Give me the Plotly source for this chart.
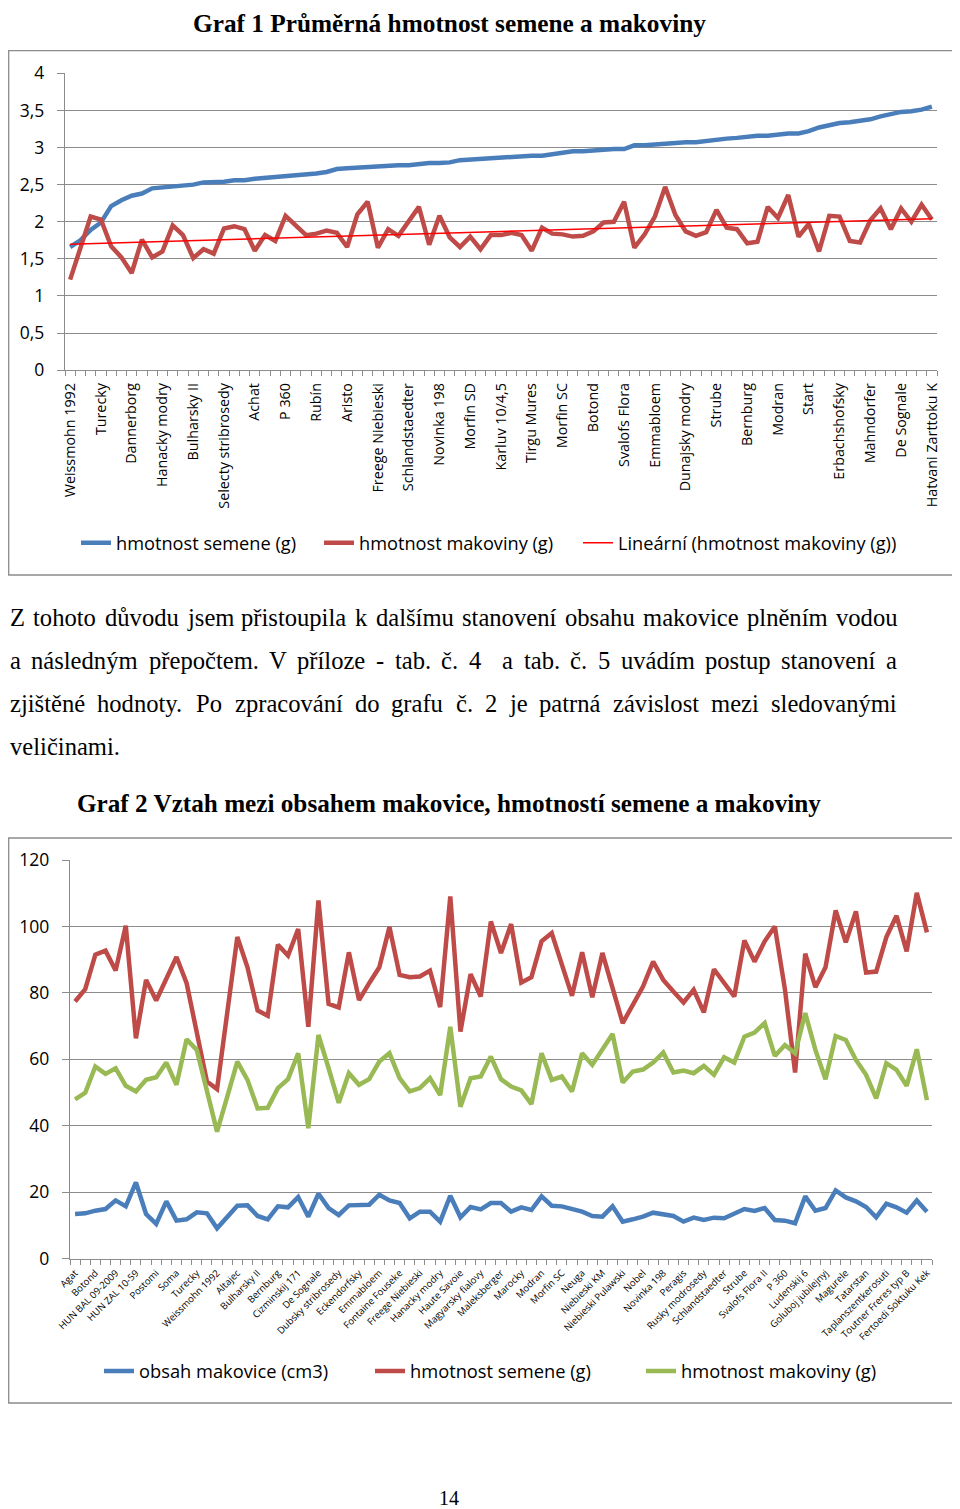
import numpy as np
import plotly.graph_objects as go

# The page body adds an 8px margin; lay the figure out in page pixels and shift.
PAGE_W, PAGE_H = 960, 1509
OFF = 8
W, H = PAGE_W - OFF, PAGE_H - OFF

# ---------------- Graf 1 data ----------------
g1_labels = ["Weissmohn 1992", "Turecky", "Dannerborg", "Hanacky modry", "Bulharsky II",
             "Selecty stribrosedy", "Achat", "P 360", "Rubín", "Aristo", "Freege Niebieski",
             "Schlandstaedter", "Novinka 198", "Morfin SD", "Karluv 10/4,5", "Tirgu Mures",
             "Morfin SC", "Botond", "Svalofs Flora", "Emmabloem", "Dunajsky modry", "Strube",
             "Bernburg", "Modran", "Start", "Erbachshofsky", "Mahndorfer", "De Sognale",
             "Hatvani Zarttoku K"]
g1_label_step = 3

g1_semene = [1.66, 1.75, 1.89, 1.99, 2.21, 2.29, 2.35, 2.38, 2.45, 2.46,
             2.48, 2.48, 2.50, 2.53, 2.53, 2.54, 2.56, 2.56, 2.58, 2.59,
             2.60, 2.61, 2.63, 2.64, 2.65, 2.67, 2.71, 2.72, 2.73, 2.74,
             2.74, 2.76, 2.76, 2.76, 2.78, 2.79, 2.79, 2.80, 2.83, 2.84,
             2.85, 2.85, 2.86, 2.88, 2.89, 2.89, 2.89, 2.91, 2.93, 2.95,
             2.95, 2.96, 2.98, 2.98, 2.98, 3.03, 3.03, 3.04, 3.06, 3.07,
             3.07, 3.07, 3.09, 3.10, 3.12, 3.13, 3.15, 3.16, 3.16, 3.18,
             3.19, 3.19, 3.22, 3.27, 3.30, 3.33, 3.34, 3.36, 3.38, 3.42,
             3.45, 3.48, 3.49, 3.51, 3.55]

g1_makoviny = [1.22, 1.64, 2.07, 2.03, 1.67, 1.52, 1.31, 1.76, 1.52, 1.60,
               1.95, 1.82, 1.51, 1.63, 1.57, 1.91, 1.94, 1.90, 1.61, 1.82,
               1.74, 2.08, 1.94, 1.82, 1.84, 1.88, 1.85, 1.66, 2.10, 2.27,
               1.65, 1.90, 1.81, 2.01, 2.20, 1.69, 2.08, 1.79, 1.66, 1.80,
               1.63, 1.82, 1.82, 1.85, 1.82, 1.61, 1.92, 1.84, 1.83, 1.80,
               1.81, 1.87, 1.99, 2.00, 2.27, 1.65, 1.83, 2.07, 2.47, 2.09,
               1.87, 1.81, 1.86, 2.16, 1.92, 1.90, 1.71, 1.73, 2.20, 2.05,
               2.36, 1.80, 1.97, 1.60, 2.08, 2.07, 1.74, 1.72, 2.02, 2.18,
               1.90, 2.18, 2.00, 2.23, 2.03]

# ---------------- Graf 2 data ----------------
g2_labels = ["Agat", "Botond", "HUN BAL 09-2009", "HUN ZAL 10-59", "Postomi", "Soma",
             "Turecky", "Weissmohn 1992", "Altajec", "Bulharsky II", "Bernburg",
             "Cizminskij 171", "De Sognale", "Dubsky stribrosedy", "Eckendorfsky",
             "Emmabloem", "Fontaine Fouseke", "Freege Niebieski", "Hanacky modry",
             "Haute Savoie", "Magyarsky fialovy", "Maleksberger", "Marocky", "Modran",
             "Morfin SC", "Neuga", "Niebieski KM", "Niebieski Pulawski", "Nobel",
             "Novinka 198", "Peragis", "Rusky modrosedy", "Schlandstaedter", "Strube",
             "Svalofs Flora II", "P 360", "Ludenskij 6", "Goluboj jubilejnyj", "Magurele",
             "Tatarstan", "Taplanszentkerosuti", "Toutner Freres typ B",
             "Fertoedi Soktuku Kek"]
g2_label_step = 2

g2_obsah = [13.4, 13.6, 14.4, 14.9, 17.5, 15.7, 22.9, 13.4, 10.4, 17.2,
            11.4, 11.8, 13.9, 13.6, 9.1, 12.4, 15.9, 16.0, 12.8, 11.8,
            15.7, 15.4, 18.5, 12.6, 19.5, 15.2, 13.1, 16.0, 16.0, 16.2,
            19.2, 17.5, 16.7, 12.1, 14.1, 14.1, 11.1, 18.9, 12.4, 15.5,
            14.8, 16.7, 16.7, 14.1, 15.4, 14.6, 18.7, 15.9, 15.7, 14.9,
            14.1, 12.8, 12.6, 15.7, 11.1, 11.8, 12.6, 13.8, 13.3, 12.8,
            11.1, 12.3, 11.6, 12.3, 12.1, 13.6, 14.9, 14.3, 15.2, 11.6,
            11.4, 10.6, 18.7, 14.4, 15.2, 20.5, 18.4, 17.2, 15.5, 12.4,
            16.5, 15.4, 13.8, 17.5, 14.1]

g2_semene = [77.4, 81.1, 91.5, 92.7, 86.7, 100.2, 66.3, 83.9, 77.7, 84.4,
             90.8, 82.9, 67.8, 53.3, 51.0, 73.9, 96.8, 87.7, 74.7, 73.1,
             94.5, 91.2, 99.2, 69.8, 107.8, 76.7, 75.6, 92.2, 77.8, 82.9,
             87.7, 99.8, 85.4, 84.7, 84.9, 86.7, 75.7, 109.0, 68.3, 85.6,
             78.9, 101.5, 92.0, 100.7, 83.1, 84.7, 95.5, 98.0, 88.4, 79.1,
             92.2, 78.7, 92.0, 81.4, 70.9, 76.4, 81.9, 89.4, 83.9, 80.4,
             77.1, 80.9, 74.1, 87.1, 83.1, 78.9, 95.8, 89.4, 95.5, 100.0,
             81.0, 56.0, 91.8, 81.7, 87.7, 104.8, 95.2, 104.5, 86.1, 86.4,
             96.8, 103.2, 92.5, 110.1, 98.2]

g2_makoviny = [47.9, 49.9, 57.8, 55.6, 57.3, 52.0, 50.3, 53.8, 54.6, 59.0,
               52.3, 66.0, 62.8, 50.0, 38.2, 48.7, 59.3, 53.8, 45.2, 45.4,
               51.3, 54.0, 61.8, 39.2, 67.3, 57.3, 46.9, 55.8, 52.3, 54.0,
               59.3, 61.8, 54.3, 50.3, 51.3, 54.3, 49.2, 69.8, 45.7, 54.3,
               54.8, 60.8, 54.0, 51.8, 50.6, 46.5, 61.8, 53.8, 54.8, 50.3,
               61.8, 58.3, 63.0, 67.6, 53.0, 56.3, 56.9, 59.0, 62.0, 56.0,
               56.6, 55.8, 58.0, 55.3, 60.6, 59.0, 66.8, 68.0, 70.9, 61.0,
               64.3, 61.8, 73.9, 62.8, 54.0, 67.0, 65.8, 59.8, 55.3, 48.2,
               58.8, 56.8, 52.0, 63.0, 47.7]

# ---------------- texts ----------------
title1 = "Graf 1 Průměrná hmotnost semene a makoviny"
title2 = "Graf 2 Vztah mezi obsahem makovice, hmotností semene a makoviny"
paragraph = [
    "Z tohoto důvodu jsem přistoupila k dalšímu stanovení obsahu makovice plněním vodou",
    "a následným přepočtem. V příloze - tab. č. 4  a tab. č. 5 uvádím postup stanovení a",
    "zjištěné hodnoty. Po zpracování do grafu č. 2 je patrná závislost mezi sledovanými",
    "veličinami.",
]
page_number = "14"

# ---------------- styling ----------------
BLUE = "#4A7EBB"
RED = "#BE4B48"
GREEN = "#98B954"
TREND = "#FF0000"
GRID = "#8C8C8C"
SANS = "Open Sans"
SERIF = "Liberation Serif"
PARA_SIZE = 24.6
PARA_LEFT, PARA_RIGHT = 8, 895

# Times New Roman advance widths (1/1000 em) for justified text layout
TNR = {" ": 250, "a": 444, "b": 500, "c": 444, "d": 500, "e": 444, "f": 333, "g": 500,
       "h": 500, "i": 278, "j": 278, "k": 500, "l": 278, "m": 778, "n": 500, "o": 500,
       "p": 500, "q": 500, "r": 333, "s": 389, "t": 278, "u": 500, "v": 500, "w": 722,
       "x": 500, "y": 500, "z": 444, "Z": 611, "V": 722, "P": 556, ".": 250, ",": 250,
       "-": 333, "á": 444, "č": 444, "ď": 500, "é": 444, "ě": 444, "í": 278, "ň": 500,
       "ó": 500, "ř": 333, "š": 389, "ť": 278, "ú": 500, "ů": 500, "ý": 500, "ž": 444}


def word_width(w, size):
    return sum(TNR.get(ch, 500) for ch in w) * size / 1000.0


def fx(px):
    """page pixel x -> paper fraction"""
    return (px - OFF) / W


def fy(py):
    """page pixel y -> paper fraction"""
    return 1 - (py - OFF) / H


fig = go.Figure()

# Graf 1
x1 = list(range(len(g1_semene)))
fig.add_trace(go.Scatter(x=x1, y=g1_semene, mode="lines", name="hmotnost semene (g)",
                         line=dict(color=BLUE, width=4.5), xaxis="x", yaxis="y",
                         legend="legend"))
fig.add_trace(go.Scatter(x=x1, y=g1_makoviny, mode="lines", name="hmotnost makoviny (g)",
                         line=dict(color=RED, width=4.5), xaxis="x", yaxis="y",
                         legend="legend"))
coef = np.polyfit(x1, g1_makoviny, 1)
trend = np.polyval(coef, x1)
fig.add_trace(go.Scatter(x=x1, y=trend, mode="lines",
                         name="Lineární (hmotnost makoviny (g))",
                         line=dict(color=TREND, width=1.5), xaxis="x", yaxis="y",
                         legend="legend3"))

# Graf 2
x2 = list(range(len(g2_obsah)))
fig.add_trace(go.Scatter(x=x2, y=g2_obsah, mode="lines", name="obsah makovice (cm3)",
                         line=dict(color=BLUE, width=4.5), xaxis="x2", yaxis="y2",
                         legend="legend2"))
fig.add_trace(go.Scatter(x=x2, y=g2_semene, mode="lines", name="hmotnost semene (g)",
                         line=dict(color=RED, width=4.5), xaxis="x2", yaxis="y2",
                         legend="legend2"))
fig.add_trace(go.Scatter(x=x2, y=g2_makoviny, mode="lines", name="hmotnost makoviny (g)",
                         line=dict(color=GREEN, width=4.5), xaxis="x2", yaxis="y2",
                         legend="legend2"))

axis_common = dict(showline=True, linecolor=GRID, linewidth=1.3, zeroline=False,
                   fixedrange=True, automargin=False)
leg_common = dict(orientation="h", xanchor="left", yanchor="middle",
                  bgcolor="rgba(0,0,0,0)", itemwidth=30)

fig.update_layout(
    template="none",
    width=W, height=H,
    margin=dict(l=0, r=0, t=0, b=0, autoexpand=False),
    paper_bgcolor="white", plot_bgcolor="white",
    separators=", ",
    xaxis=dict(domain=[fx(65), fx(937)], range=[-0.5, len(x1) - 0.5], anchor="y",
               tickmode="array", tickvals=x1[::g1_label_step], ticktext=g1_labels,
               tickangle=-90, ticks="", showgrid=False,
               tickfont=dict(family=SANS, size=14.3, color="black"),
               ticklabelstandoff=6,
               minor=dict(ticks="outside", tick0=-0.5, dtick=1, ticklen=5,
                          tickcolor=GRID, tickwidth=1, showgrid=False),
               **axis_common),
    yaxis=dict(domain=[fy(370.2), fy(73.3)], range=[0, 4], anchor="x",
               tick0=0, dtick=0.5, showgrid=True, gridcolor=GRID, gridwidth=1.3,
               ticks="outside", ticklen=7, tickcolor=GRID, tickwidth=1.3,
               tickfont=dict(family=SANS, size=17.5, color="black"),
               ticklabelstandoff=9, **axis_common),
    xaxis2=dict(domain=[fx(70), fx(932)], range=[-0.5, len(x2) - 0.5], anchor="y2",
                tickmode="array", tickvals=x2[::g2_label_step], ticktext=g2_labels,
                tickangle=-45, ticks="", showgrid=False,
                tickfont=dict(family=SANS, size=9.6, color="black"),
                ticklabelstandoff=4,
                minor=dict(ticks="outside", tick0=-0.5, dtick=1, ticklen=5,
                           tickcolor=GRID, tickwidth=1, showgrid=False),
                **axis_common),
    yaxis2=dict(domain=[fy(1258.5), fy(860)], range=[0, 120], anchor="x2",
                tick0=0, dtick=20, showgrid=True, gridcolor=GRID, gridwidth=1.3,
                ticks="outside", ticklen=7, tickcolor=GRID, tickwidth=1.3,
                tickfont=dict(family=SANS, size=17.5, color="black"),
                ticklabelstandoff=9, **axis_common),
    legend=dict(x=fx(76), y=fy(543), font=dict(family=SANS, size=18.2, color="black"),
                entrywidth=198, **leg_common),
    legend3=dict(x=fx(578), y=fy(543), font=dict(family=SANS, size=18.2, color="black"),
                 **leg_common),
    legend2=dict(x=fx(99), y=fy(1371), font=dict(family=SANS, size=18.3, color="black"),
                 entrywidth=226, **leg_common),
    showlegend=True,
)

# chart frames
for top, bottom in [(50.7, 575), (838, 1403)]:
    fig.add_shape(type="rect", xref="paper", yref="paper",
                  x0=fx(8.7), x1=fx(958.5), y0=fy(bottom), y1=fy(top),
                  line=dict(color=GRID, width=1.3), fillcolor="rgba(0,0,0,0)",
                  layer="below")

annotations = [
    dict(text="<b>" + title1 + "</b>", x=fx(449), y=fy(8), xanchor="center",
         yanchor="top", borderpad=0, font=dict(family=SERIF, size=25.3, color="black")),
    dict(text="<b>" + title2 + "</b>", x=fx(449), y=fy(803), xanchor="center",
         yanchor="middle", font=dict(family=SERIF, size=25.2, color="black")),
    dict(text=page_number, x=fx(449), y=fy(1498), xanchor="center", yanchor="middle",
         font=dict(family=SERIF, size=20, color="black")),
]

# justified paragraph (last line left-aligned)
for li, line in enumerate(paragraph):
    yline = fy(617 + 43 * li)
    words = line.split(" ")
    if li == len(paragraph) - 1:
        annotations.append(dict(text=line, x=fx(PARA_LEFT), y=yline, xanchor="left",
                                yanchor="middle",
                                font=dict(family=SERIF, size=PARA_SIZE, color="black")))
        continue
    widths = [word_width(w, PARA_SIZE) for w in words]
    gap = (PARA_RIGHT - PARA_LEFT - sum(widths)) / (len(words) - 1)
    xpos = PARA_LEFT
    for w, wd in zip(words, widths):
        if w:
            annotations.append(dict(text=w, x=fx(xpos), y=yline, xanchor="left",
                                    yanchor="middle",
                                    font=dict(family=SERIF, size=PARA_SIZE, color="black")))
        xpos += wd + gap

for a in annotations:
    a.update(xref="paper", yref="paper", showarrow=False)
fig.update_layout(annotations=annotations)

fig.write_html("out.html")
